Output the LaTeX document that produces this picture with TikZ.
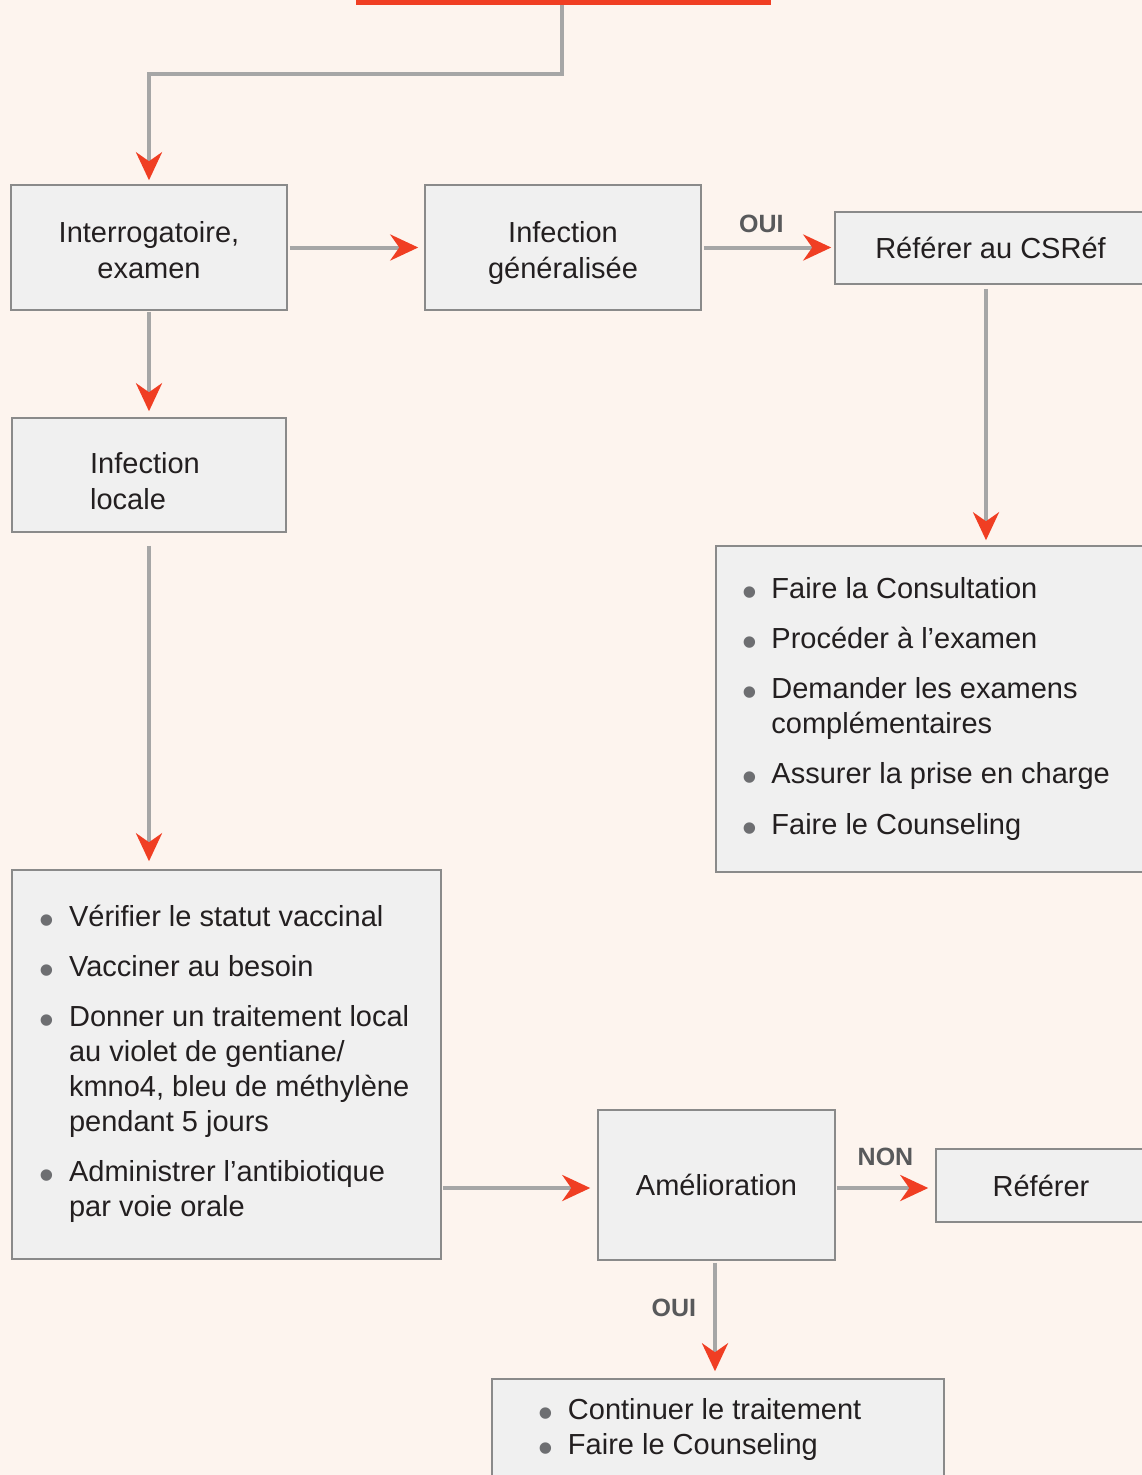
\documentclass[tikz,border=0pt]{standalone}
\usepackage{fontspec}
\setmainfont{Liberation Sans}
\usetikzlibrary{arrows.meta}
\definecolor{fond}{HTML}{FDF4EE}
\definecolor{boite}{HTML}{F0F0F0}
\definecolor{bord}{HTML}{8A8A8A}
\definecolor{fleche}{HTML}{A6A6A6}
\definecolor{pointe}{HTML}{F03E23}
\definecolor{texte}{HTML}{231F20}
\definecolor{etiq}{HTML}{58595B}
\definecolor{gpuce}{HTML}{6D6E71}
\newcommand{\bul}{\textcolor{gpuce}{\raisebox{-8.4pt}{\scalebox{1.45}{\textbullet}}}}
\newcommand{\lh}[1]{\rule{0pt}{#1pt}}
\newcommand{\ld}{\rule[-7pt]{0pt}{7pt}}
\tikzset{
  cadre/.style={draw=bord, line width=1.5pt, fill=boite, text=texte, align=center,
    inner sep=0pt, font=\fontsize{29}{36}\selectfont},
  fl/.style={fleche, line width=4pt, -{Stealth[length=28pt, width=26pt, inset=9pt, color=pointe]}},
  etiquette/.style={text=etiq, inner sep=0pt, font=\fontsize{25}{30}\selectfont\bfseries}
}

\begin{document}
\begin{tikzpicture}[x=1pt, y=-1pt]
        \useasboundingbox (0,0) rectangle (1142,1475);
        \clip (0,0) rectangle (1142,1475);
        \fill[fond] (0,0) rectangle (1142,1475);

        % boites
        \node[fill=pointe, minimum width=415pt, minimum height=10pt, inner sep=0pt] (haut) at (563.5,0) {};
        \node[cadre, minimum width=276pt, minimum height=125pt] (interro) at (149,247.5) {\lh{32.8}Interrogatoire,\\examen\ld};
        \node[cadre, minimum width=276pt, minimum height=125pt] (generale) at (563,247.5) {\lh{32.8}Infection\\généralisée\ld};
        \node[cadre, minimum width=311pt, minimum height=72pt] (csref) at (990.5,248) {Référer au CSRéf};
        \node[cadre, minimum width=430pt, minimum height=326pt] (consult) at (931,709) {%
          \fontsize{29}{35}\selectfont
          \begin{tabular}{@{}l@{\hspace{14.6pt}}l@{}}
            \bul & Faire la Consultation\\[15.5pt]
            \bul & Procéder à l’examen\\[15pt]
            \bul & Demander les examens\\
                 & complémentaires\\[15pt]
            \bul & Assurer la prise en charge\\[15.5pt]
            \bul & Faire le Counseling
          \end{tabular}\hspace*{10pt}};
        \node[cadre, align=left, minimum width=274pt, minimum height=114pt] (locale) at (149,475) {\lh{39.8}Infection\hspace*{8pt}\\locale\ld};
        \node[cadre, minimum width=429pt, minimum height=389pt] (soins) at (226.5,1064.5) {%
          \fontsize{29}{35}\selectfont
          \begin{tabular}{@{}l@{\hspace{14.6pt}}l@{}}
            \bul & Vérifier le statut vaccinal\\[15pt]
            \bul & Vacciner au besoin\\[15pt]
            \bul & Donner un traitement local\\
                 & au violet de gentiane/\\
                 & kmno4, bleu de méthylène\\
                 & pendant 5 jours\\[15pt]
            \bul & Administrer l’antibiotique\\
                 & par voie orale
          \end{tabular}\hspace*{4pt}};
        \node[cadre, minimum width=237pt, minimum height=150pt] (amelio) at (716.5,1185) {Amélioration};
        \node[cadre, minimum width=210pt, minimum height=73pt] (referer) at (1041,1185.5) {Référer};
        \node[cadre, minimum width=452pt, minimum height=101pt] (suite) at (718,1429.5) {%
          \fontsize{29}{35}\selectfont
          \begin{tabular}{@{}l@{\hspace{14.6pt}}l@{}}
            \bul & Continuer le traitement\\
            \bul & Faire le Counseling
          \end{tabular}\hspace*{36pt}};

        % fleches
        \draw[fl, shorten >=4pt] ([xshift=-1.5pt]haut.south) -- ++(0,69) -| (interro.north);
        \draw[fl, shorten <=2pt, shorten >=6pt] (interro) -- (generale);
        \draw[fl, shorten <=2pt, shorten >=3pt] (generale.east) -- (generale.east -| csref.west)
            node[etiquette, pos=0.45, above=13pt] {OUI};
        \draw[fl, shorten <=4pt, shorten >=5pt] ([xshift=-4.5pt]csref.south) -- ([xshift=-4.5pt]csref.south |- consult.north);
        \draw[fl, shorten <=1pt, shorten >=6pt] (interro.south) -- (locale.north);
        \draw[fl, shorten <=13pt, shorten >=8pt] (locale.south) -- (locale.south |- soins.north);
        \draw[fl, shorten <=1pt, shorten >=7pt] ([yshift=-3pt]soins.east |- amelio.west) -- ([yshift=-3pt]amelio.west);
        \draw[fl, shorten <=1pt, shorten >=7pt] ([yshift=-3pt]amelio.east) -- ([yshift=-3pt]amelio.east -| referer.west)
            node[etiquette, pos=0.5, above=20pt] {NON};
        \draw[fl, shorten <=2pt, shorten >=7pt] ([xshift=-1.5pt]amelio.south) -- ([xshift=-1.5pt]amelio.south |- suite.north)
            node[etiquette, pos=0.4, left=17pt] {OUI};
\end{tikzpicture}
\end{document}
